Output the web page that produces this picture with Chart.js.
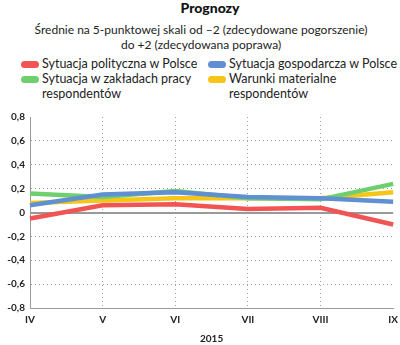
<!DOCTYPE html>
<html>
<head>
<meta charset="utf-8">
<script src="https://cdn.jsdelivr.net/npm/chart.js@4"></script>
<style>
  html, body { margin: 0; padding: 0; background: #fff; overflow: hidden; }
  body { width: 400px; height: 345px; position: relative; font-family: Lato, sans-serif; color: #222; }
  #title { position: absolute; top: 0; left: 10px; width: 400px; text-align: center; font-weight: 900; font-size: 14px; line-height: 16px; color: #111; }
  #subtitle { position: absolute; top: 22px; left: 1px; width: 400px; text-align: center; font-size: 12px; line-height: 15px; }
  #legend { position: absolute; top: 57px; left: 0; width: 400px; }
  .item { position: absolute; font-size: 12.5px; line-height: 14.5px; }
  .item span { position: absolute; left: -21px; top: 4px; width: 18px; height: 7px; border-radius: 4px; }
  #wrap { position: absolute; top: 105px; left: 0; width: 404px; height: 240px; }
</style>
</head>
<body>
<div id="title">Prognozy</div>
<div id="subtitle">Średnie na 5-punktowej skali od –2 (zdecydowane pogorszenie)<br>do +2 (zdecydowana poprawa)</div>
<div id="legend"></div>
<div id="wrap"><canvas id="chart" width="404" height="240"></canvas></div>
<script>
const months = ['IV', 'V', 'VI', 'VII', 'VIII', 'IX'];
const seriesNames = [
  'Sytuacja polityczna w Polsce',
  'Sytuacja gospodarcza w Polsce',
  'Sytuacja w zakładach pracy respondentów',
  'Warunki materialne respondentów'
];
const polityczna = [-0.05, 0.06, 0.07, 0.03, 0.04, -0.10];
const gospodarcza = [0.06, 0.15, 0.17, 0.13, 0.12, 0.09];
const zaklady = [0.16, 0.13, 0.18, 0.12, 0.11, 0.24];
const warunki = [0.08, 0.10, 0.12, 0.12, 0.12, 0.17];
const colors = ['#f25353', '#6190d2', '#6fcf6f', '#f5c518'];

// legend as html (two columns, wrapped labels)
const legendPos = [[42, 0], [229, 0], [42, 15], [229, 15]];
const legendText = [
  'Sytuacja polityczna w Polsce',
  'Sytuacja gospodarcza w Polsce',
  'Sytuacja w zakładach pracy<br>respondentów',
  'Warunki materialne<br>respondentów'
];
const legend = document.getElementById('legend');
legendText.forEach((t, i) => {
  const d = document.createElement('div');
  d.className = 'item';
  d.style.left = legendPos[i][0] + 'px';
  d.style.top = legendPos[i][1] + 'px';
  d.innerHTML = '<span style="background:' + colors[i] + '"></span>' + t;
  legend.appendChild(d);
});

const datasets = [polityczna, gospodarcza, zaklady, warunki].map((data, i) => ({
  label: seriesNames[i],
  data,
  borderColor: colors[i],
  backgroundColor: colors[i],
  borderWidth: 4.5,
  pointRadius: 0,
  tension: 0,
}));

const dotColor = '#9e9e9e';

new Chart(document.getElementById('chart'), {
  type: 'line',
  data: { labels: months, datasets },
  options: {
    responsive: false,
    animation: false,
    layout: { padding: { top: 12, right: 6, left: 0, bottom: 0 } },
    plugins: { legend: { display: false }, tooltip: { enabled: false } },
    scales: {
      x: {
        offset: false,
        grid: {
          color: (c) => (c.index === 0 || c.index === months.length - 1) ? 'rgba(0,0,0,0)' : dotColor,
          lineWidth: 1,
          drawTicks: false,
        },
        border: { color: '#9a9a9a', width: 1, dash: [1, 3] },
        ticks: { color: '#222', font: { family: 'Lato', size: 10, weight: 'bold' }, padding: 6, maxRotation: 0 },
        title: { display: true, text: '2015', color: '#222', font: { family: 'Lato', size: 10, weight: 'bold' }, padding: { top: 4, bottom: 0 } },
        afterFit: (s) => { s.height = 37; },
      },
      y: {
        min: -0.8,
        max: 0.8,
        grid: {
          color: (c) => {
            if (!c.tick) return dotColor;
            const v = Math.round(c.tick.value * 10) / 10;
            if (v === 0) return '#999';
            if (v === 0.8 || v === -0.8) return 'rgba(0,0,0,0)';
            return dotColor;
          },
          lineWidth: (c) => (c.tick && Math.abs(c.tick.value) < 1e-9) ? 2 : 1,
          drawTicks: false,
        },
        border: {
          color: '#9a9a9a',
          width: 1,
          dash: (c) => (c.tick && Math.abs(c.tick.value) < 1e-9) ? [] : [1, 3],
        },
        ticks: {
          stepSize: 0.2,
          color: '#222',
          padding: 5,
          font: { family: 'Lato', size: 10, weight: 'bold' },
          callback: (v) => {
            const r = Math.round(v * 10) / 10;
            return r === 0 ? '0' : r.toFixed(1).replace('.', ',');
          },
        },
        afterFit: (s) => { s.width = 30; },
      },
    },
  },
});
</script>
</body>
</html>
